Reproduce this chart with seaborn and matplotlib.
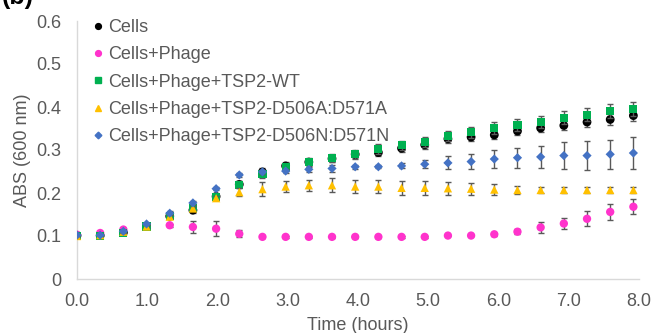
import numpy as np
import pandas as pd
import matplotlib
matplotlib.use("Agg")
import matplotlib.pyplot as plt
from matplotlib.lines import Line2D
import seaborn as sns

# dados (ABS 600 nm a cada ~20 min)
tempo = [0.0, 0.33, 0.66, 0.99, 1.32, 1.65, 1.98, 2.31, 2.64, 2.97, 3.30, 3.63, 3.96,
         4.29, 4.62, 4.95, 5.28, 5.61, 5.94, 6.27, 6.60, 6.93, 7.26, 7.59, 7.92]

cells = [0.101, 0.101, 0.108, 0.122, 0.146, 0.160, 0.192, 0.220, 0.249, 0.263, 0.272, 0.280, 0.290,
         0.294, 0.304, 0.312, 0.326, 0.330, 0.335, 0.344, 0.351, 0.357, 0.365, 0.371, 0.380]
cells_err = [0.003, 0.003, 0.004, 0.004, 0.005, 0.006, 0.006, 0.007, 0.008, 0.008, 0.008, 0.008, 0.008,
             0.008, 0.009, 0.009, 0.010, 0.010, 0.010, 0.010, 0.010, 0.011, 0.011, 0.012, 0.012]

phage = [0.103, 0.107, 0.115, 0.122, 0.125, 0.121, 0.117, 0.105, 0.098, 0.098, 0.098, 0.098, 0.098,
         0.098, 0.098, 0.098, 0.101, 0.101, 0.104, 0.110, 0.120, 0.129, 0.140, 0.156, 0.168]
phage_err = [0.002, 0.002, 0.003, 0.003, 0.004, 0.014, 0.018, 0.008, 0.002, 0.002, 0.002, 0.002, 0.002,
             0.002, 0.002, 0.002, 0.002, 0.002, 0.004, 0.006, 0.012, 0.012, 0.017, 0.019, 0.017]

wt = [0.101, 0.101, 0.108, 0.122, 0.146, 0.166, 0.190, 0.219, 0.244, 0.261, 0.272, 0.281, 0.290,
      0.302, 0.311, 0.319, 0.332, 0.341, 0.351, 0.359, 0.366, 0.375, 0.382, 0.390, 0.396]
wt_err = [0.003, 0.003, 0.004, 0.004, 0.005, 0.006, 0.006, 0.008, 0.009, 0.009, 0.010, 0.010, 0.010,
          0.011, 0.011, 0.012, 0.012, 0.013, 0.013, 0.014, 0.014, 0.015, 0.015, 0.016, 0.016]

d506a = [0.100, 0.102, 0.110, 0.122, 0.145, 0.164, 0.188, 0.202, 0.209, 0.215, 0.218, 0.218, 0.215,
         0.215, 0.212, 0.212, 0.211, 0.210, 0.208, 0.207, 0.207, 0.207, 0.207, 0.207, 0.207]
d506a_err = [0.002, 0.002, 0.003, 0.003, 0.004, 0.004, 0.005, 0.010, 0.016, 0.013, 0.013, 0.016, 0.016,
             0.016, 0.016, 0.016, 0.015, 0.014, 0.012, 0.009, 0.008, 0.007, 0.008, 0.008, 0.008]

d506n = [0.102, 0.102, 0.111, 0.128, 0.153, 0.177, 0.210, 0.242, 0.249, 0.251, 0.255, 0.257, 0.261,
         0.261, 0.263, 0.267, 0.270, 0.273, 0.279, 0.282, 0.284, 0.287, 0.287, 0.290, 0.293]
d506n_err = [0.002, 0.002, 0.003, 0.003, 0.004, 0.004, 0.004, 0.004, 0.005, 0.005, 0.006, 0.007, 0.005,
             0.004, 0.006, 0.010, 0.015, 0.018, 0.022, 0.023, 0.025, 0.032, 0.033, 0.034, 0.037]

nomes = ["Cells", "Cells+Phage", "Cells+Phage+TSP2-WT",
         "Cells+Phage+TSP2-D506A:D571A", "Cells+Phage+TSP2-D506N:D571N"]
valores = [cells, phage, wt, d506a, d506n]
erros = [cells_err, phage_err, wt_err, d506a_err, d506n_err]
cores = ["#000000", "#FF33CC", "#00B050", "#FFC000", "#4472C4"]
marcadores = ["o", "o", "s", "^", "D"]
tamanhos = [40, 36, 34, 36, 22]

df = pd.concat([pd.DataFrame({"tempo": tempo, "abs": v, "erro": e, "amostra": n})
                for n, v, e in zip(nomes, valores, erros)], ignore_index=True)

plt.rcParams["font.family"] = ["Liberation Sans", "DejaVu Sans"]
cinza = "#595959"

fig = plt.figure(figsize=(6.54, 3.33), dpi=100)
ax = fig.add_axes([77 / 654, 54 / 333, 562 / 654, 258 / 333])

for i, nome in enumerate(nomes):
    d = df[df["amostra"] == nome]
    ax.errorbar(d["tempo"], d["abs"], yerr=d["erro"], fmt="none", ecolor=cinza,
                elinewidth=1, capsize=2.5, capthick=1, zorder=2 + i * 2)
    sns.scatterplot(data=d, x="tempo", y="abs", color=cores[i], marker=marcadores[i],
                    s=tamanhos[i], edgecolor="none", ax=ax, zorder=3 + i * 2, legend=False)

ax.set_xlim(0, 8)
ax.set_ylim(0, 0.6)
ax.set_xticks(np.arange(0, 8.1, 1.0))
ax.set_xticklabels([f"{t:.1f}" for t in np.arange(0, 8.1, 1.0)])
ax.set_yticks([0, 0.1, 0.2, 0.3, 0.4, 0.5, 0.6])
ax.set_yticklabels(["0", "0.1", "0.2", "0.3", "0.4", "0.5", "0.6"])
ax.tick_params(length=0, labelsize=13, labelcolor=cinza)
ax.tick_params(axis="y", pad=11)
ax.tick_params(axis="x", pad=10)
for lado in ["top", "right"]:
    ax.spines[lado].set_visible(False)
for lado in ["left", "bottom"]:
    ax.spines[lado].set_color("#D9D9D9")
    ax.spines[lado].set_linewidth(1)

ax.set_xlabel("Time (hours)", fontsize=13, color=cinza, labelpad=5)
ax.set_ylabel("ABS (600 nm)", fontsize=13, color=cinza, labelpad=4)

alcas = [Line2D([], [], linestyle="none", marker=m, color=c, markersize=4.2 if m != "D" else 3.4)
         for m, c in zip(marcadores, cores)]
leg = ax.legend(alcas, nomes, loc="upper left", bbox_to_anchor=(91 / 654, 1 - 19 / 333),
                bbox_transform=fig.transFigure, frameon=False, fontsize=13,
                handlelength=0.8, handletextpad=0.15, labelspacing=0.57, borderpad=0,
                borderaxespad=0)
for t in leg.get_texts():
    t.set_color(cinza)

fig.text(0.002, 1 - 4 / 333, "(b)", fontsize=18, fontweight="bold", va="baseline")

fig.savefig("out.png", dpi=100)
